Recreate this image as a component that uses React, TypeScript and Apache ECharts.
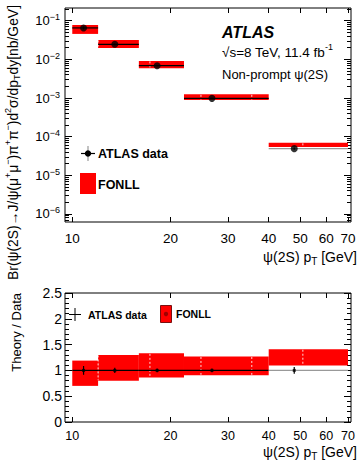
import React, { useEffect, useRef } from "react";
import * as echarts from "echarts";

// ---- data ----
const binLow = [10, 12, 16, 22, 40];
const binHigh = [12, 16, 22, 40, 70];
const pointPt = [10.83, 13.5, 18.2, 26.8, 47.9];
const crossSection = [0.065, 0.0245, 0.00686, 0.00098, 4.9e-5];
const ratioErr = [0.085, 0.05, 0.035, 0.035, 0.065];
const fonllRatioLow = [0.7, 0.8, 0.86, 0.905, 1.095];
const fonllRatioHigh = [1.19, 1.3, 1.33, 1.27, 1.41];
const fonllSplitPt = [12, 17.3, 24.8, 35.5, 50.9];
const fonllSplitBin = [1, 2, 3, 3, 4];
const xTickValues = [10, 20, 30, 40, 50, 60, 70];
const yTickValuesTop = [1e-6, 1e-5, 1e-4, 1e-3, 1e-2, 1e-1];

const X_MIN = 9.5;
const X_MAX = 71.5;
const Y_MIN = 6.2e-7;
const Y_MAX = 0.213;

const FONT = "'Liberation Sans', Arial, Helvetica, sans-serif";
const RED = "#ff0000";

const yMinorTop: number[] = [];
for (let e = -7; e <= -1; e++) {
  for (let m = 2; m <= 9; m++) {
    const v = m * Math.pow(10, e);
    if (v > Y_MIN && v < Y_MAX) yMinorTop.push(v);
  }
}

const n = binLow.length;
const idx = Array.from({ length: n }, (_, i) => i);

function logX(gridIndex: number, position: string, showLabels: boolean, fontSize: number, margin: number) {
  return {
    type: "log",
    logBase: 10,
    gridIndex,
    position,
    min: X_MIN,
    max: X_MAX,
    axisLine: { show: false, onZero: false },
    splitLine: { show: false },
    axisTick: { show: true, inside: true, length: 5, customValues: xTickValues, lineStyle: { color: "#000", width: 1 } },
    axisLabel: {
      show: showLabels,
      customValues: xTickValues,
      fontSize,
      fontFamily: FONT,
      color: "#000",
      margin,
      formatter: (v: number) => String(Math.round(v)),
    },
  };
}

function logYTop(position: string, ticks: number[], len: number, showLabels: boolean) {
  return {
    type: "log",
    logBase: 10,
    gridIndex: 0,
    position,
    min: Y_MIN,
    max: Y_MAX,
    axisLine: { show: false, onZero: false },
    splitLine: { show: false },
    axisTick: { show: true, inside: true, length: len, customValues: ticks, lineStyle: { color: "#000", width: 1 } },
    axisLabel: {
      show: showLabels,
      customValues: ticks,
      margin: 5,
      formatter: (v: number) => {
        const e = Math.round(Math.log10(v));
        return `{b|10}{s|\u2212${-e}}`;
      },
      rich: {
        b: { fontSize: 13, fontFamily: FONT, color: "#000", lineHeight: 16 },
        s: { fontSize: 9, fontFamily: FONT, color: "#000", lineHeight: 9, verticalAlign: "top" },
      },
    },
  };
}

function ratioY(position: string, showLabels: boolean) {
  return {
    type: "value",
    gridIndex: 1,
    position,
    min: 0,
    max: 2.5,
    interval: 0.5,
    axisLine: { show: false, onZero: false },
    splitLine: { show: false },
    axisTick: { show: true, inside: true, length: 7, lineStyle: { color: "#000", width: 1 } },
    minorTick: { show: true, splitNumber: 5, length: 4, lineStyle: { color: "#000", width: 1 } },
    axisLabel: {
      show: showLabels,
      margin: 3,
      fontSize: 14,
      fontFamily: FONT,
      color: "#000",
      formatter: (v: number) => String(v),
    },
  };
}

const rectRender = (color: string) => (params: any, api: any) => {
  const p1 = api.coord([api.value(0), api.value(3)]);
  const p2 = api.coord([api.value(1), api.value(2)]);
  return {
    type: "rect",
    shape: { x: p1[0], y: p1[1], width: p2[0] - p1[0], height: p2[1] - p1[1] },
    style: { fill: color },
  };
};

const dividerRender = (params: any, api: any) => {
  const p1 = api.coord([api.value(0), api.value(2)]);
  const p2 = api.coord([api.value(0), api.value(1)]);
  return {
    type: "line",
    shape: { x1: p1[0], y1: p1[1] + 0.5, x2: p2[0], y2: p2[1] - 0.5 },
    style: { stroke: "rgba(255,255,255,0.85)", lineWidth: 1, lineDash: [2, 2] },
  };
};

const hLineRender = (params: any, api: any) => {
  const p1 = api.coord([api.value(0), api.value(2)]);
  const p2 = api.coord([api.value(1), api.value(2)]);
  const last = params.dataIndex === n - 1;
  return {
    type: "line",
    shape: { x1: p1[0], y1: p1[1], x2: p2[0], y2: p2[1] },
    style: { stroke: last ? "#999" : "#000", lineWidth: 1.2 },
  };
};

const vLineRender = (params: any, api: any) => {
  const p1 = api.coord([api.value(0), api.value(1)]);
  const p2 = api.coord([api.value(0), api.value(2)]);
  return {
    type: "line",
    shape: { x1: p1[0], y1: p1[1], x2: p2[0], y2: p2[1] },
    style: { stroke: "#000", lineWidth: 1.2 },
  };
};

function buildOption() {
  const topBoxes = idx.map((i) => [binLow[i], binHigh[i], crossSection[i] * fonllRatioLow[i], crossSection[i] * fonllRatioHigh[i]]);
  const ratioBoxes = idx.map((i) => [binLow[i], binHigh[i], fonllRatioLow[i], fonllRatioHigh[i]]);
  const topDividers = fonllSplitPt.map((x, k) => {
    const i = fonllSplitBin[k];
    return [x, crossSection[i] * fonllRatioLow[i], crossSection[i] * fonllRatioHigh[i]];
  });
  const ratioDividers = fonllSplitPt.map((x, k) => {
    const i = fonllSplitBin[k];
    return [x, fonllRatioLow[i], fonllRatioHigh[i]];
  });
  const topXErr = idx.map((i) => [binLow[i], binHigh[i], crossSection[i]]);
  const ratioXErr = idx.map((i) => [binLow[i], binHigh[i], 1]);
  const topYErr = idx.map((i) => [pointPt[i], crossSection[i] * (1 - ratioErr[i]), crossSection[i] * (1 + ratioErr[i])]);
  const ratioYErr = idx.map((i) => [pointPt[i], 1 - ratioErr[i], 1 + ratioErr[i]]);
  const topPts = idx.map((i) => [pointPt[i], crossSection[i]]);
  const ratioPts = idx.map((i) => [pointPt[i], 1]);

  const txt = (x: number, y: number, text: string, extra: any = {}, rich?: any, rotation = 0) => ({
    type: "text",
    x,
    y,
    rotation,
    silent: true,
    style: {
      text,
      fill: "#000",
      fontFamily: FONT,
      fontSize: 13,
      align: "left",
      verticalAlign: "middle",
      rich,
      ...extra,
    },
  });

  const richTitle = (size: number) => ({
    n: { fontSize: size, fontFamily: FONT, color: "#000", lineHeight: size + 5 },
    sp: { fontSize: Math.round(size * 0.68), fontFamily: FONT, color: "#000", lineHeight: 9, verticalAlign: "top" },
    sb: { fontSize: Math.round(size * 0.68), fontFamily: FONT, color: "#000", lineHeight: 9, verticalAlign: "bottom" },
  });

  return {
    animation: false,
    backgroundColor: "#fff",
    grid: [
      { left: 65, top: 8, width: 286, height: 214, show: true, borderColor: "#000", borderWidth: 1, backgroundColor: "transparent" },
      { left: 65, top: 293, width: 286, height: 129, show: true, borderColor: "#000", borderWidth: 1, backgroundColor: "transparent" },
    ],
    xAxis: [
      logX(0, "bottom", true, 13.5, 9),
      logX(0, "top", false, 13, 8),
      logX(1, "bottom", true, 12.5, 7),
      logX(1, "top", false, 13, 8),
    ],
    yAxis: [
      logYTop("left", yTickValuesTop, 7, true),
      logYTop("left", yMinorTop, 4, false),
      logYTop("right", yTickValuesTop, 7, false),
      logYTop("right", yMinorTop, 4, false),
      ratioY("left", true),
      ratioY("right", false),
    ],
    series: [
      { type: "custom", xAxisIndex: 0, yAxisIndex: 0, silent: true, renderItem: rectRender(RED), data: topBoxes, encode: { x: [0, 1], y: [2, 3] }, z: 2 },
      { type: "custom", xAxisIndex: 0, yAxisIndex: 0, silent: true, renderItem: dividerRender, data: topDividers, encode: { x: 0, y: [1, 2] }, z: 3 },
      { type: "custom", xAxisIndex: 0, yAxisIndex: 0, silent: true, renderItem: hLineRender, data: topXErr, encode: { x: [0, 1], y: 2 }, z: 4 },
      { type: "custom", xAxisIndex: 0, yAxisIndex: 0, silent: true, renderItem: vLineRender, data: topYErr, encode: { x: 0, y: [1, 2] }, z: 4 },
      { type: "scatter", xAxisIndex: 0, yAxisIndex: 0, silent: true, data: topPts, symbol: "circle", symbolSize: 7, itemStyle: { color: "#000" }, z: 5 },

      { type: "custom", xAxisIndex: 2, yAxisIndex: 4, silent: true, renderItem: rectRender(RED), data: ratioBoxes, encode: { x: [0, 1], y: [2, 3] }, z: 2 },
      { type: "custom", xAxisIndex: 2, yAxisIndex: 4, silent: true, renderItem: dividerRender, data: ratioDividers, encode: { x: 0, y: [1, 2] }, z: 3 },
      { type: "custom", xAxisIndex: 2, yAxisIndex: 4, silent: true, renderItem: hLineRender, data: ratioXErr, encode: { x: [0, 1], y: 2 }, z: 4 },
      { type: "custom", xAxisIndex: 2, yAxisIndex: 4, silent: true, renderItem: vLineRender, data: ratioYErr, encode: { x: 0, y: [1, 2] }, z: 4 },
      { type: "scatter", xAxisIndex: 2, yAxisIndex: 4, silent: true, data: ratioPts, symbol: "rect", symbolSize: 3, itemStyle: { color: "#000" }, z: 5 },
    ],
    graphic: [
      // Top panel annotations
      txt(222, 32, "ATLAS", { fontSize: 16, fontWeight: "bold", fontStyle: "italic" }),
      txt(222, 52, "{n|\u221As=8 TeV, 11.4 fb}{sp|-1}", {}, richTitle(13.5)),
      txt(222, 74, "Non-prompt \u03C8(2S)", { fontSize: 13 }),
      // Top legend
      { type: "line", silent: true, shape: { x1: 88, y1: 146, x2: 88, y2: 161 }, style: { stroke: "#999", lineWidth: 1.2 } },
      { type: "line", silent: true, shape: { x1: 81, y1: 153.5, x2: 95, y2: 153.5 }, style: { stroke: "#000", lineWidth: 1.2 } },
      { type: "circle", silent: true, shape: { cx: 88, cy: 153.5, r: 3.2 }, style: { fill: "#000" } },
      txt(98, 154, "ATLAS data", { fontSize: 12.5, fontWeight: "bold" }),
      { type: "rect", silent: true, shape: { x: 80, y: 173, width: 16, height: 21 }, style: { fill: RED } },
      txt(98, 185, "FONLL", { fontSize: 12.5, fontWeight: "bold" }),
      // Top axis titles
      txt(357, 257, "{n|\u03C8(2S) p}{sb|T}{n| [GeV]}", { align: "right" }, richTitle(14)),
      txt(12.5, 5, "{n|Br(\u03C8(2S)\u2192J/\u03C8(\u03BC}{sp|+}{n|\u03BC}{sp|\u2212}{n|)\u03C0}{sp|+}{n|\u03C0}{sp|\u2212}{n|)d}{sp|2}{n|\u03C3/dp}{sb|T}{n|dy[nb/GeV]}", { align: "right" }, richTitle(13.9), Math.PI / 2),
      // Bottom legend
      { type: "line", silent: true, shape: { x1: 75, y1: 308, x2: 75, y2: 321 }, style: { stroke: "#000", lineWidth: 1 } },
      { type: "line", silent: true, shape: { x1: 69, y1: 314.5, x2: 81, y2: 314.5 }, style: { stroke: "#000", lineWidth: 1 } },
      txt(88, 314.5, "ATLAS data", { fontSize: 10.5, fontWeight: "bold" }),
      { type: "rect", silent: true, shape: { x: 160.5, y: 305.5, width: 11, height: 17 }, style: { fill: RED, stroke: "#7a1010", lineWidth: 1 } },
      { type: "circle", silent: true, shape: { cx: 166, cy: 314, r: 2.2 }, style: { fill: "#a00000" } },
      txt(176, 313.5, "FONLL", { fontSize: 10.5, fontWeight: "bold" }),
      // Bottom axis titles
      txt(357, 452, "{n|\u03C8(2S) p}{sb|T}{n| [GeV]}", { align: "right" }, richTitle(14)),
      txt(16, 293, "Theory / Data", { align: "right", fontSize: 13 }, undefined, Math.PI / 2),
    ],
  };
}

export default function App() {
  const ref = useRef<HTMLDivElement>(null);
  useEffect(() => {
    document.body.style.margin = "0";
    if (!ref.current) return;
    const chart = echarts.init(ref.current, null, { renderer: "svg" });
    chart.setOption(buildOption() as any);
    return () => chart.dispose();
  }, []);
  return <div ref={ref} style={{ position: "absolute", left: 0, top: 0, width: 359, height: 463 }} />;
}
